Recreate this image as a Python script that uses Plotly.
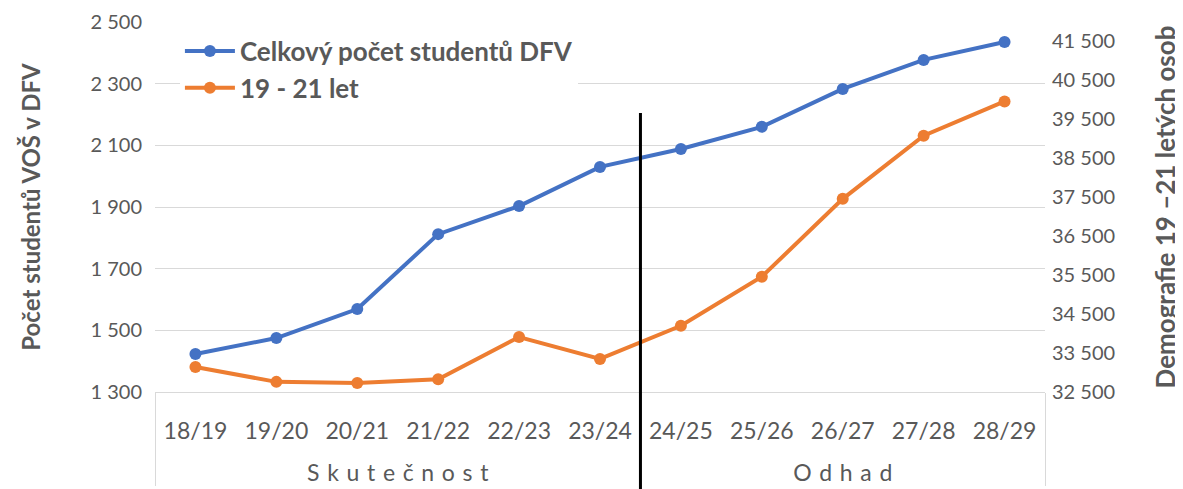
import plotly.graph_objects as go

# data
roky = ["18/19", "19/20", "20/21", "21/22", "22/23", "23/24",
        "24/25", "25/26", "26/27", "27/28", "28/29"]
sp = "\u2004"
skupiny = ["<br>" + sp.join("Skutečnost")] * 6 + ["<br>" + sp.join("Odhad")] * 5
studenti_dfv = [1423, 1475, 1569, 1812, 1903, 2030, 2088, 2160, 2283, 2377, 2435]
demografie_19_21 = [33140, 32760, 32730, 32830, 33910, 33350,
                    34200, 35460, 37460, 39080, 39960]

seda = "#595959"
font = "Lato"

fig = go.Figure()
fig.add_trace(go.Scatter(x=[skupiny, roky], y=studenti_dfv,
                         name="Celkový počet studentů DFV",
                         mode="lines+markers",
                         line=dict(color="#4472C4", width=4),
                         marker=dict(size=12, color="#4472C4")))
fig.add_trace(go.Scatter(x=[skupiny, roky], y=demografie_19_21,
                         name="19 - 21 let", yaxis="y2",
                         mode="lines+markers",
                         line=dict(color="#ED7D31", width=4),
                         marker=dict(size=12, color="#ED7D31")))

# black separator between actual and estimate
fig.add_shape(type="line", xref="x", yref="paper", x0=5.5, x1=5.5,
              y0=-0.3, y1=0.754, line=dict(color="black", width=3))

fig.update_layout(
    width=1183, height=489,
    margin=dict(l=147, r=146, t=14, b=105, autoexpand=False),
    paper_bgcolor="white", plot_bgcolor="white",
    separators=", ",
    font=dict(family=font, color=seda, size=20),
    showlegend=True,
    legend=dict(x=0.028, y=0.985, xanchor="left", yanchor="top",
                bgcolor="white", font=dict(size=26, color=seda, weight="bold"),
                itemwidth=50, tracegroupgap=3),
    xaxis=dict(type="multicategory", range=[-0.5, 10.5],
               showline=True, linecolor="#D9D9D9",
               linewidth=1, showgrid=False, showdividers=True,
               dividercolor="#D9D9D9", dividerwidth=1, automargin=False,
               ticklabelstandoff=18,
               tickfont=dict(size=23, color=seda)),
    yaxis=dict(range=[1300, 2500], tick0=1300, dtick=200,
               separatethousands=True, gridcolor="#D9D9D9", zeroline=False,
               automargin=False, tickformat=",d",
               tickfont=dict(size=20, color=seda), ticklabelstandoff=12,
               title=dict(text="<b>Počet studentů VOŠ v DFV</b>",
                          font=dict(size=24, color=seda), standoff=43)),
    yaxis2=dict(overlaying="y", side="right", range=[32500, 42000],
                tick0=32500, dtick=1000, separatethousands=True,
                showgrid=False, zeroline=False, automargin=False,
                tickformat=",d",
                tickfont=dict(size=20, color=seda), ticklabelstandoff=6,
                title=dict(text="<b>Demografie 19 –21 letých osob</b>",
                           font=dict(size=26, color=seda), standoff=42)),
)

fig.write_html("out.html")
